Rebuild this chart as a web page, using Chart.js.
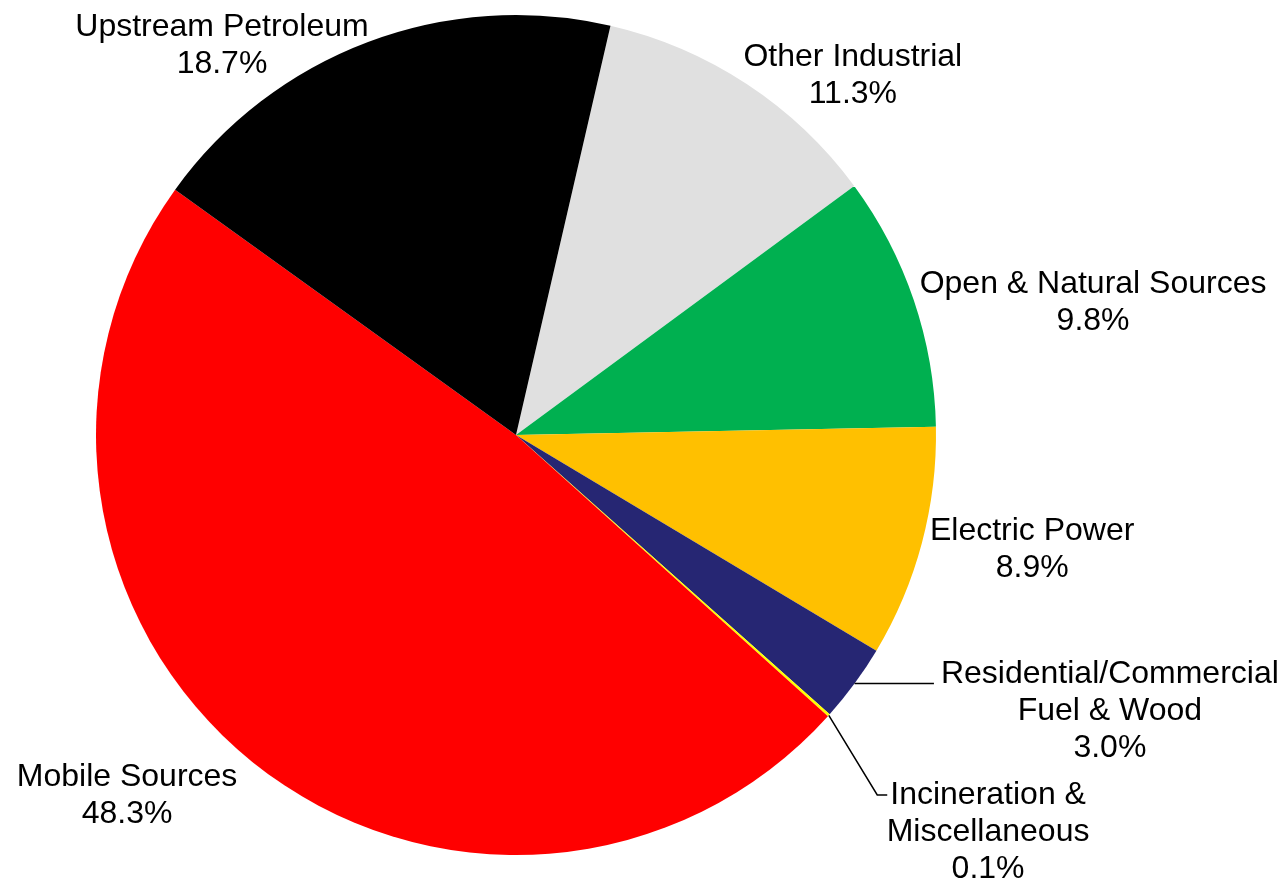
<!DOCTYPE html>
<html>
<head>
<meta charset="utf-8">
<script src="https://cdn.jsdelivr.net/npm/chart.js@4.4.0/dist/chart.umd.min.js"></script>
<style>
  html, body { margin: 0; padding: 0; background: #ffffff; }
  canvas { display: block; }
</style>
</head>
<body>
<canvas id="emissionsPie" width="1286" height="879"></canvas>
<script>
// emission source categories, clockwise from just right of 12 o'clock
const sourceLabels = [
    ['Other Industrial'],
    ['Open & Natural Sources'],
    ['Electric Power'],
    ['Residential/Commercial', 'Fuel & Wood'],
    ['Incineration &', 'Miscellaneous'],
    ['Mobile Sources'],
    ['Upstream Petroleum']
];
const sourceShares = [11.3, 9.8, 8.9, 3.0, 0.1, 48.3, 18.7];
const sliceColors = ['#e0e0e0', '#00b050', '#ffc000', '#262673', '#ffff00', '#ff0000', '#000000'];

// label block centres, as multiples of the pie radius from the pie centre
const labelSpots = [
    [0.802, -0.855],
    [1.374, -0.314],
    [1.229, 0.274],
    [1.414, 0.657],
    [1.124, 0.945],
    [-0.926, 0.859],
    [-0.700, -0.927]
];
// which labels get a leader line
const leaderStyle = [null, null, null, 'flat', 'elbow', null, null];

const labelFont = '32px "Liberation Sans", Arial, sans-serif';
const lineGap = 37;

const pieLabels = {
    id: 'pieLabels',
    afterDatasetsDraw(chart) {
        const ctx = chart.ctx;
        const arcs = chart.getDatasetMeta(0).data;
        ctx.save();
        ctx.font = labelFont;
        ctx.fillStyle = '#000000';
        ctx.textAlign = 'center';
        ctx.textBaseline = 'middle';
        arcs.forEach(function(arc, i) {
            const r = arc.outerRadius;
            const lines = sourceLabels[i].concat([sourceShares[i].toFixed(1) + '%']);
            const cx = arc.x + labelSpots[i][0] * r;
            const cy = arc.y + labelSpots[i][1] * r;
            const top = cy - (lines.length - 1) * lineGap / 2;
            lines.forEach(function(t, k) {
                ctx.fillText(t, cx, top + k * lineGap);
            });

            if (leaderStyle[i]) {
                const mid = (arc.startAngle + arc.endAngle) / 2;
                const ex = arc.x + Math.cos(mid) * r;
                const ey = arc.y + Math.sin(mid) * r;
                const left = cx - ctx.measureText(lines[0]).width / 2;
                ctx.beginPath();
                ctx.strokeStyle = '#000000';
                ctx.lineWidth = 1.5;
                ctx.moveTo(ex, ey);
                if (leaderStyle[i] === 'flat') {
                    ctx.lineTo(left - 7, ey);
                } else {
                    ctx.lineTo(left - 13, top);
                    ctx.lineTo(left - 3, top);
                }
                ctx.stroke();
            }
        });
        ctx.restore();
    }
};

const pieCtx = document.getElementById('emissionsPie').getContext('2d');
const emissionsPie = new Chart(pieCtx, {
    type: 'pie',
    data: {
        labels: sourceLabels.map(function(l) { return l.join(' '); }),
        datasets: [{
            data: sourceShares,
            backgroundColor: sliceColors,
            borderWidth: 0
        }]
    },
    options: {
        responsive: false,
        animation: false,
        rotation: 13,
        layout: {
            padding: { top: 15, bottom: 24, left: 96, right: 350 }
        },
        plugins: {
            legend: { display: false },
            tooltip: { enabled: false }
        }
    },
    plugins: [pieLabels]
});
</script>
</body>
</html>
